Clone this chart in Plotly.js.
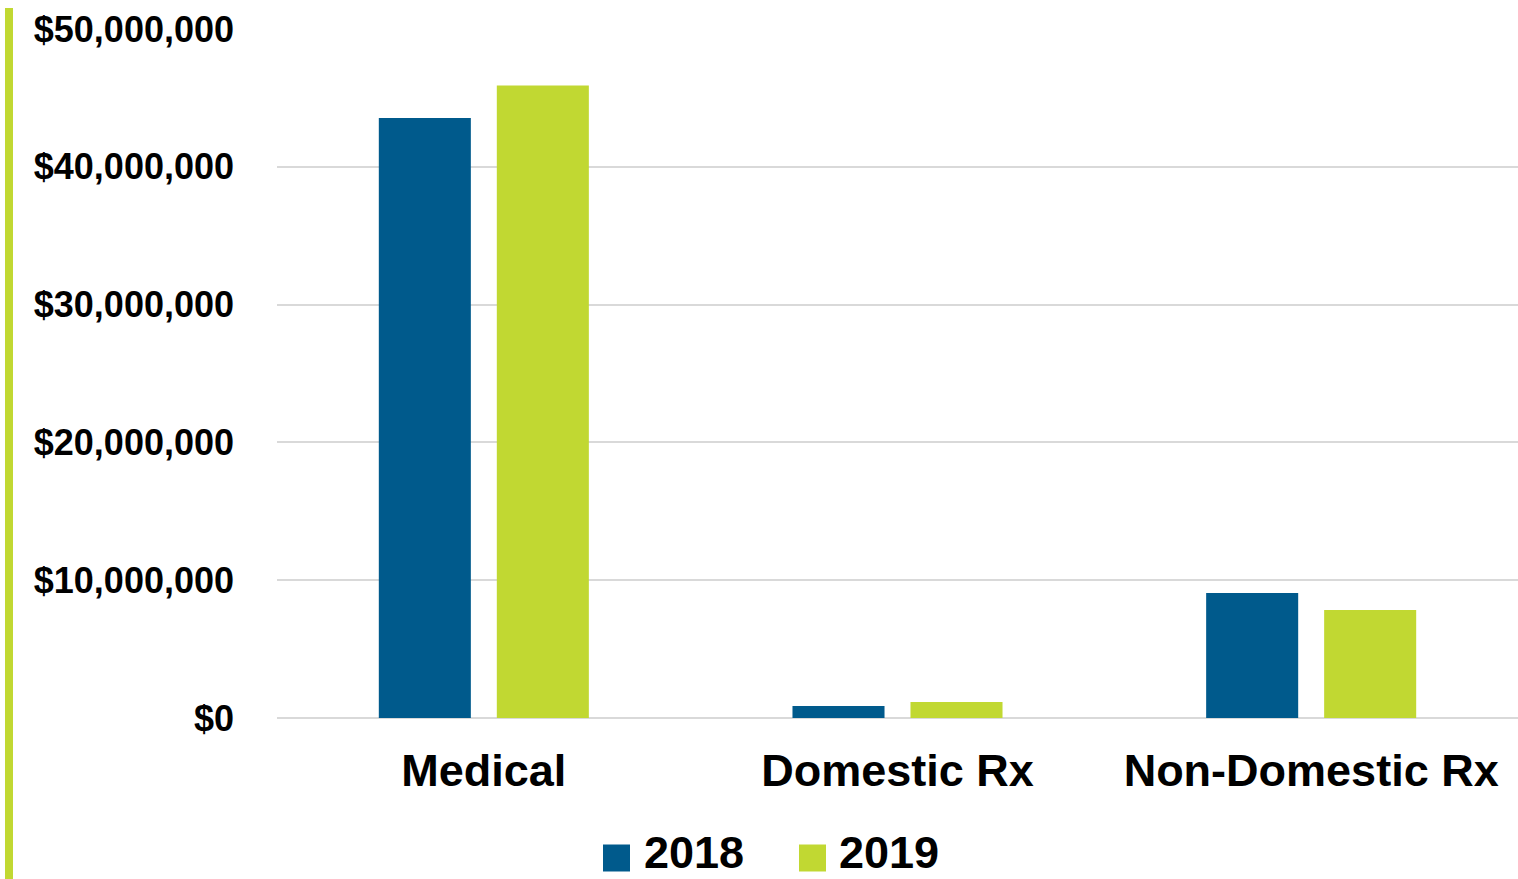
<!DOCTYPE html>
<html><head><meta charset="utf-8">
<script src="https://cdn.plot.ly/plotly-3.0.1.min.js"></script>
<style>html,body{margin:0;padding:0;background:#fff}#chart{width:1518px;height:879px}</style>
</head><body><div id="chart"></div>
<script>
const categories = ["Medical", "Domestic Rx", "Non-Domestic Rx"];
const seriesNames = ["2018", "2019"];
const values2018 = [43550000, 870000, 9070000];
const values2019 = [45900000, 1160000, 7840000];
const tickValues = [0, 10000000, 20000000, 30000000, 40000000, 50000000];
const tickLabels = tickValues.map(v => '$' + v.toLocaleString('en-US'));

const colors = ["#005a8c", "#c1d832"];
const FONT = "Liberation Sans, Arial, sans-serif";
const W = 1518, H = 879, L = 277, R = 0, T = 29, B = 161;
const pw = W - L - R, ph = H - T - B;
const px = x => (x - L) / pw;
const py = y => (H - B - y) / ph;

const data = [values2018, values2019].map((v, i) => ({
  type: 'bar', x: categories, y: v, name: seriesNames[i],
  marker: {color: colors[i]}, hoverinfo: 'x+y', showlegend: false
}));

const legendSquareX = [603, 799], legendTextX = [643, 838];
const shapes = [{
  type: 'rect', xref: 'paper', yref: 'paper',
  x0: px(5), x1: px(13), y0: py(879), y1: py(8),
  fillcolor: colors[1], line: {width: 0}, layer: 'above'
}];
const annotations = [];
seriesNames.forEach((n, i) => {
  shapes.push({type: 'rect', xref: 'paper', yref: 'paper',
    x0: px(legendSquareX[i]), x1: px(legendSquareX[i] + 27),
    y0: py(858 + 13.5), y1: py(858 - 13.5),
    fillcolor: colors[i], line: {width: 0}});
  annotations.push({xref: 'paper', yref: 'paper', x: px(legendTextX[i]), y: py(879),
    xanchor: 'left', yanchor: 'bottom', showarrow: false, text: n, borderpad: 0,
    font: {family: FONT, size: 45, color: '#000', weight: 'bold'}});
});

const layout = {
  width: W, height: H,
  margin: {l: L, r: R, t: T, b: B, pad: 0},
  paper_bgcolor: '#fff', plot_bgcolor: '#fff',
  font: {family: FONT, color: '#000', weight: 'bold'},
  barmode: 'group', bargap: 0.4295, bargroupgap: 0.22,
  showlegend: false,
  xaxis: {type: 'category', showgrid: false, zeroline: false, showline: false, ticks: '',
    tickfont: {family: FONT, size: 45, color: '#000', weight: 'bold'}, ticklabelstandoff: 22},
  yaxis: {range: [0, 50000000], tickmode: 'array', tickvals: tickValues, ticktext: tickLabels,
    showgrid: true, gridcolor: '#d9d9d9', gridwidth: 2, zeroline: true, zerolinecolor: '#d9d9d9', zerolinewidth: 2,
    showline: false, ticks: '', ticklabelstandoff: 42,
    tickfont: {family: FONT, size: 36, color: '#000', weight: 'bold'}},
  shapes: shapes, annotations: annotations
};
Plotly.newPlot('chart', data, layout, {displayModeBar: false, staticPlot: true});
</script></body></html>
